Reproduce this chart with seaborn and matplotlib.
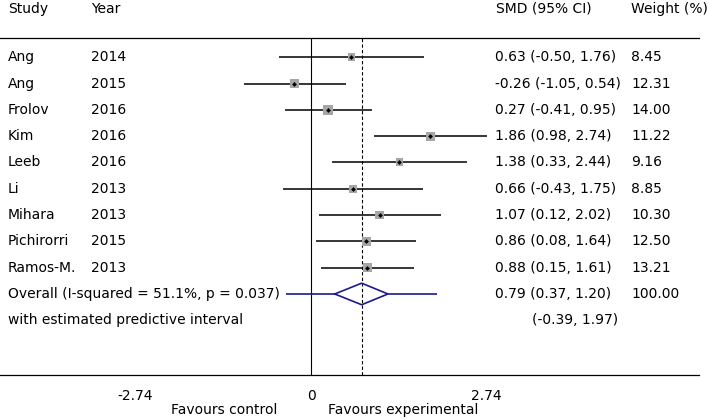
import matplotlib
matplotlib.use("Agg")
import matplotlib.pyplot as plt
import matplotlib.transforms as mtransforms
import pandas as pd
import seaborn as sns

# study data
studies = ["Ang", "Ang", "Frolov", "Kim", "Leeb", "Li", "Mihara", "Pichirorri", "Ramos-M."]
years = [2014, 2015, 2016, 2016, 2016, 2013, 2013, 2015, 2013]
smd = [0.63, -0.26, 0.27, 1.86, 1.38, 0.66, 1.07, 0.86, 0.88]
ci_low = [-0.50, -1.05, -0.41, 0.98, 0.33, -0.43, 0.12, 0.08, 0.15]
ci_high = [1.76, 0.54, 0.95, 2.74, 2.44, 1.75, 2.02, 1.64, 1.61]
weights = [8.45, 12.31, 14.00, 11.22, 9.16, 8.85, 10.30, 12.50, 13.21]

overall = 0.79
overall_ci = (0.37, 1.20)
pred_ci = (-0.39, 1.97)
i_squared = 51.1
p_value = 0.037
xticks = [-2.74, 0, 2.74]

df = pd.DataFrame({"study": studies, "year": years, "smd": smd,
                   "lo": ci_low, "hi": ci_high, "weight": weights})
df["row"] = range(len(df))
overall_row = len(df)
pred_row = len(df) + 1

sns.set_style("white")
plt.rcParams["font.family"] = ["DejaVu Sans"]
plt.rcParams["text.color"] = "black"
plt.rcParams["xtick.color"] = "black"
fs = 10

W, H = 709, 419
fig = plt.figure(figsize=(W / 100, H / 100), dpi=100)
ax = fig.add_axes([0, 1 - 375 / H, 699 / W, (375 - 38) / H])

px_per_unit = 175.7 / 2.74
ax.set_xlim(-311 / px_per_unit, (699 - 311) / px_per_unit)
ax.set_ylim(12.08, -0.73)

# reference lines
ax.axvline(0, color="black", lw=0.8, zorder=1)
ax.axvline(overall, color="black", lw=0.8, ls=(0, (3, 2)), zorder=1)

# confidence intervals
ax.hlines(df["row"], df["lo"], df["hi"], color="black", lw=1.1, zorder=2)

# weight squares (area proportional to weight)
def area(w):
    side_px = 7.6 * (w / 8.45) ** 0.5
    return (side_px * 0.72) ** 2

sns.scatterplot(data=df, x="smd", y="row", size="weight",
                sizes=(area(df["weight"].min()), area(df["weight"].max())),
                marker="s", color="#a6a6a6", edgecolor="none", legend=False,
                ax=ax, zorder=3)
ax.scatter(df["smd"], df["row"], s=6, color="black", marker="D",
           linewidths=0, zorder=4)

# overall diamond and predictive interval
navy = "#1a1a8c"
h = 0.41
ax.plot([overall_ci[0], overall, overall_ci[1], overall, overall_ci[0]],
        [overall_row, overall_row - h, overall_row, overall_row + h, overall_row],
        color=navy, lw=1.2, zorder=3)
ax.hlines([overall_row, overall_row], [pred_ci[0], overall_ci[1]],
          [overall_ci[0], pred_ci[1]], color=navy, lw=1.2, zorder=3)

# axes styling
for s in ["left", "right"]:
    ax.spines[s].set_visible(False)
for s in ["top", "bottom"]:
    ax.spines[s].set_linewidth(0.9)
    ax.spines[s].set_color("black")
ax.set_yticks([])
ax.set_xticks(xticks)
ax.set_xticklabels(["-2.74", "0", "2.74"], fontsize=fs)
ax.tick_params(axis="x", direction="out", length=4, width=0.8, pad=6, color="black")
ax.set_xlabel("")
ax.set_ylabel("")

# text columns
tr = mtransforms.blended_transform_factory(fig.transFigure, ax.transData)
kw = dict(transform=tr, fontsize=fs, va="center", clip_on=False)
x_study, x_year, x_smd, x_wt = 8 / W, 91 / W, 495 / W, 631 / W
for _, r in df.iterrows():
    ax.text(x_study, r["row"], r["study"], **kw)
    ax.text(x_year, r["row"], str(r["year"]), **kw)
    ax.text(x_smd, r["row"], f"{r['smd']:.2f} ({r['lo']:.2f}, {r['hi']:.2f})", **kw)
    ax.text(x_wt, r["row"], f"{r['weight']:.2f}", **kw)

ax.text(x_study, overall_row,
        f"Overall (I-squared = {i_squared:.1f}%, p = {p_value:.3f})", **kw)
ax.text(x_smd, overall_row,
        f"{overall:.2f} ({overall_ci[0]:.2f}, {overall_ci[1]:.2f})", **kw)
ax.text(x_wt, overall_row, f"{sum(weights):.2f}", **kw)
ax.text(x_study, pred_row, "with estimated predictive interval", **kw)
ax.text(532 / W, pred_row, f"({pred_ci[0]:.2f}, {pred_ci[1]:.2f})", **kw)

# header
hy = 1 - 9 / H
for x, label in [(8, "Study"), (91, "Year"), (496, "SMD (95% CI)"), (631, "Weight (%)")]:
    fig.text(x / W, hy, label, fontsize=fs, va="center")

# favours labels
fy = 1 - 410 / H
fig.text(277 / W, fy, "Favours control", fontsize=fs, va="center", ha="right")
fig.text(328 / W, fy, "Favours experimental", fontsize=fs, va="center", ha="left")

fig.savefig("out.png", dpi=100)
